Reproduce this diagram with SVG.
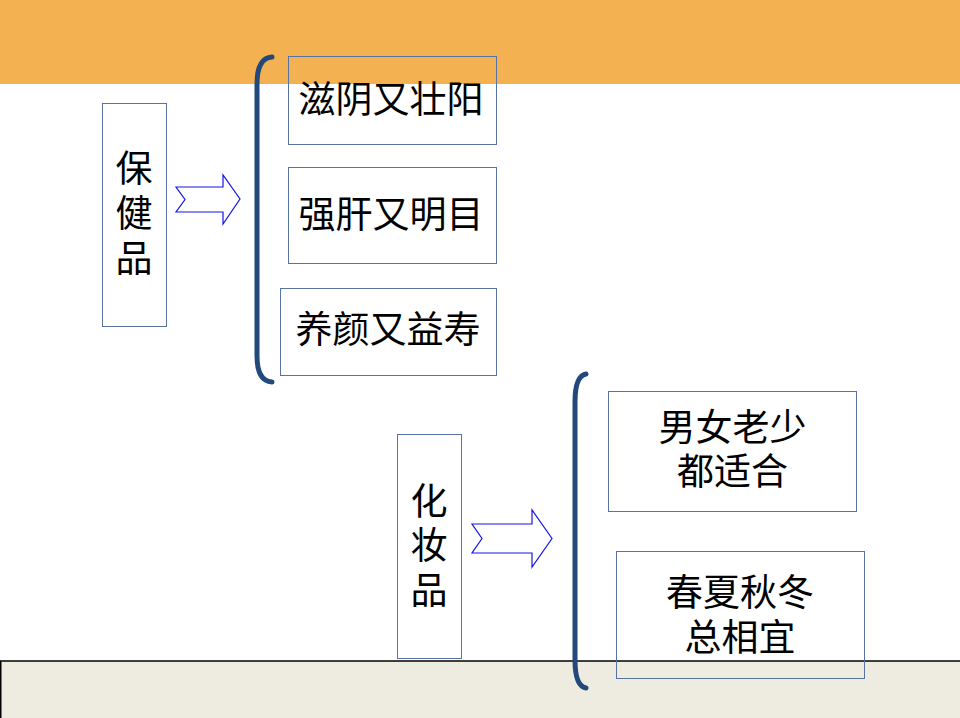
<svg xmlns="http://www.w3.org/2000/svg" width="960" height="718" viewBox="0 0 960 718">
<style>
.box{fill:none;stroke:#5673A3;stroke-width:1}
.txt{font-family:"Liberation Serif","Noto Sans CJK SC",serif;font-size:37px;fill:#000;text-anchor:middle;dominant-baseline:central}
.arrow{fill:#fff;stroke:#1414E6;stroke-width:1.2}
.brace{fill:none;stroke:#22497A;stroke-width:5;stroke-linecap:round}
</style>
<rect x="0" y="0" width="960" height="718" fill="#fff"/>
<rect id="top-band" x="0" y="0" width="960" height="84" fill="#F3B151"/>
<rect id="bottom-band" x="0.75" y="661" width="962" height="60" fill="#EEECE1" stroke="#000" stroke-width="1.5"/>

<g id="connectors">
  <polygon class="arrow" points="176,187 223,187 223,175 240,199 223,224 223,212 176,212 185,199.5"/>
  <polygon class="arrow" points="472,524 532,524 532,510 552,538.5 532,567 532,553 472,553 482,538.5"/>
  <path class="brace" d="M272,57 Q257,58 257,84 L257,356 Q257,381 272,382"/>
  <path class="brace" d="M586,374 Q575,376 575,402 L575,660 Q575,686 586,688"/>
</g>

<g id="node-baojianpin">
  <rect class="box" x="102.5" y="103.5" width="64" height="223"/>
  <text class="txt"><tspan x="134" y="169">保</tspan><tspan x="134" y="214">健</tspan><tspan x="134" y="259">品</tspan></text>
</g>
<g id="node-zengyin">
  <rect class="box" x="288.5" y="56.5" width="208" height="88"/>
  <text class="txt" x="391" y="100">滋阴又壮阳</text>
</g>
<g id="node-qianggan">
  <rect class="box" x="288.5" y="167.5" width="208" height="96"/>
  <text class="txt" x="391" y="215">强肝又明目</text>
</g>
<g id="node-yangyan">
  <rect class="box" x="280.5" y="288.5" width="216" height="87"/>
  <text class="txt" x="388" y="330">养颜又益寿</text>
</g>

<g id="node-huazhuangpin">
  <rect class="box" x="397.5" y="434.5" width="64" height="224"/>
  <text class="txt"><tspan x="429" y="502">化</tspan><tspan x="429" y="546">妆</tspan><tspan x="429" y="591">品</tspan></text>
</g>
<g id="node-nannv">
  <rect class="box" x="608.5" y="391.5" width="248" height="120"/>
  <text class="txt"><tspan x="732.5" y="428">男女老少</tspan><tspan x="732.5" y="472">都适合</tspan></text>
</g>
<g id="node-chunxia">
  <rect class="box" x="616.5" y="551.5" width="248" height="127"/>
  <text class="txt"><tspan x="740" y="593">春夏秋冬</tspan><tspan x="740" y="638">总相宜</tspan></text>
</g>
</svg>
